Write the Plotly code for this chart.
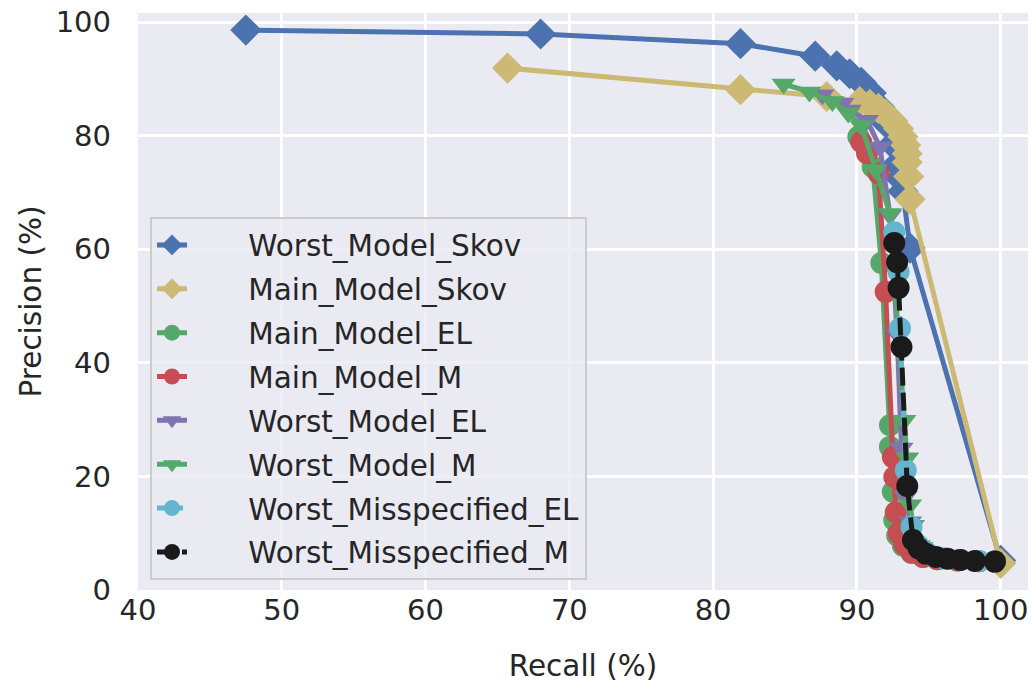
import plotly.graph_objects as go

# ---------------- data ----------------
worst_skov_x = [47.5, 68.0, 81.9, 87.1, 88.6, 89.5, 90.3, 91.0, 91.6, 92.1, 92.5, 92.8, 93.0, 93.2, 93.7, 100.0]
worst_skov_y = [98.6, 97.9, 96.2, 94.0, 92.3, 90.9, 89.4, 87.5, 85.0, 82.0, 78.5, 75.0, 72.5, 70.2, 60.2, 5.2]

main_skov_x = [65.7, 81.9, 87.9, 90.2, 90.9, 91.5, 92.0, 92.5, 92.9, 93.2, 93.4, 93.5, 93.5, 93.6, 93.7, 100.0]
main_skov_y = [91.9, 88.1, 86.9, 86.0, 85.5, 84.8, 83.8, 82.6, 81.2, 79.8, 78.3, 76.8, 75.3, 72.8, 68.8, 4.7]

main_el_x = [90.1, 91.1, 91.7, 92.3, 92.3, 92.5, 92.6, 92.8, 93.2, 93.8, 94.6, 95.6, 97.0, 98.5, 99.6]
main_el_y = [79.8, 74.5, 57.6, 29.0, 25.2, 17.3, 12.3, 9.6, 7.8, 6.5, 5.8, 5.4, 5.2, 5.05, 5.0]

main_m_x = [90.3, 90.7, 91.5, 92.0, 92.5, 92.6, 92.7, 92.9, 93.3, 93.8, 94.6, 95.6, 97.0, 98.5, 99.6]
main_m_y = [78.9, 76.9, 73.4, 52.5, 23.4, 19.9, 13.7, 10.0, 8.0, 6.6, 5.8, 5.4, 5.2, 5.05, 5.0]

worst_el_x = [87.6, 89.0, 89.5, 90.7, 91.6, 92.3, 92.8, 93.1, 93.4, 93.7, 94.3, 95.2, 96.5, 98.0, 99.5]
worst_el_y = [87.2, 85.7, 84.5, 82.7, 78.0, 66.0, 45.0, 25.0, 16.5, 12.0, 7.8, 6.2, 5.5, 5.2, 5.0]

worst_m_x = [84.9, 86.7, 88.3, 89.4, 90.3, 91.3, 92.3, 93.3, 93.5, 93.7, 93.9, 94.5, 95.5, 97.0, 99.5]
worst_m_y = [89.1, 87.7, 86.0, 84.0, 81.8, 74.0, 66.3, 29.9, 23.3, 15.0, 11.4, 7.5, 6.0, 5.3, 5.0]

miss_el_x = [92.6, 92.9, 93.0, 93.4, 93.8, 94.3, 95.0, 96.0, 97.2, 98.5, 99.6]
miss_el_y = [63.0, 56.0, 46.1, 21.1, 11.1, 7.8, 6.3, 5.6, 5.3, 5.1, 5.0]

miss_m_x = [92.6, 92.8, 92.9, 93.1, 93.5, 93.9, 94.3, 94.8, 95.5, 96.3, 97.2, 98.2, 99.6]
miss_m_y = [61.1, 57.7, 53.2, 42.8, 18.3, 8.8, 7.3, 6.4, 5.8, 5.5, 5.3, 5.1, 5.0]

x_ticks = [40, 50, 60, 70, 80, 90, 100]
y_ticks = [0, 20, 40, 60, 80, 100]

series = [
    ("Worst_Model_Skov", worst_skov_x, worst_skov_y, "#4C72B0", "diamond", "solid", 24),
    ("Main_Model_Skov", main_skov_x, main_skov_y, "#CCB974", "diamond", "solid", 24),
    ("Main_Model_EL", main_el_x, main_el_y, "#55A868", "circle", "solid", 22),
    ("Main_Model_M", main_m_x, main_m_y, "#C44E52", "circle", "solid", 22),
    ("Worst_Model_EL", worst_el_x, worst_el_y, "#8172B2", "triangle-down", "solid", 21),
    ("Worst_Model_M", worst_m_x, worst_m_y, "#55A868", "triangle-down", "solid", 21),
    ("Worst_Misspecified_EL", miss_el_x, miss_el_y, "#64B5CD", "circle", "26px,6px,4px,6px", 22),
    ("Worst_Misspecified_M", miss_m_x, miss_m_y, "#1A1A1A", "circle", "18px,7px", 22),
]

FONT = "DejaVu Sans"
TXT = "#262626"
PAD = "\u00a0" * 6  # widen the gap between legend symbol and label

fig = go.Figure()
for name, xs, ys, col, sym, dash, ms in series:
    fig.add_trace(go.Scatter(
        x=xs, y=ys, name=PAD + name, mode="lines+markers",
        legendgroup=name,
        line=dict(color=col, width=5, dash=dash),
        marker=dict(symbol=sym, size=ms, color=col, line=dict(width=0)),
    ))

fig.update_layout(
    width=1032, height=689,
    margin=dict(l=138, r=4, t=13, b=99),
    paper_bgcolor="white",
    plot_bgcolor="#EAEAF2",
    font=dict(family=FONT, size=29, color=TXT),
    showlegend=True,
    legend=dict(
        x=0.0135, y=0.646, xanchor="left", yanchor="top",
        bgcolor="rgba(234,234,242,0.8)",
        bordercolor="#CCCCCC", borderwidth=2,
        font=dict(family=FONT, size=29.5, color=TXT),
        tracegroupgap=2.5,
        traceorder="grouped",
    ),
)
fig.update_xaxes(
    range=[40, 101.9], tickvals=x_ticks, ticktext=[str(t) for t in x_ticks],
    showgrid=True, gridcolor="white", gridwidth=2.5, zeroline=False,
    showline=False, ticks="", automargin=False, ticklabeloverflow="allow",
    title=dict(text="Recall (%)", font=dict(family=FONT, size=29.5, color=TXT), standoff=29),
    tickfont=dict(family=FONT, size=29, color=TXT),
)
fig.update_yaxes(
    range=[0, 101.6], tickvals=y_ticks, ticktext=[str(t) for t in y_ticks],
    showgrid=True, gridcolor="white", gridwidth=2.5, zeroline=False,
    showline=False, ticks="", automargin=False, ticklabeloverflow="allow",
    title=dict(text="Precision (%)", font=dict(family=FONT, size=29.5, color=TXT), standoff=5),
    tickfont=dict(family=FONT, size=29, color=TXT),
    ticklabelstandoff=26,
)

fig.write_html(
    "out.html",
    config={"displayModeBar": False},
    post_script="document.body.style.margin='0';",
)
